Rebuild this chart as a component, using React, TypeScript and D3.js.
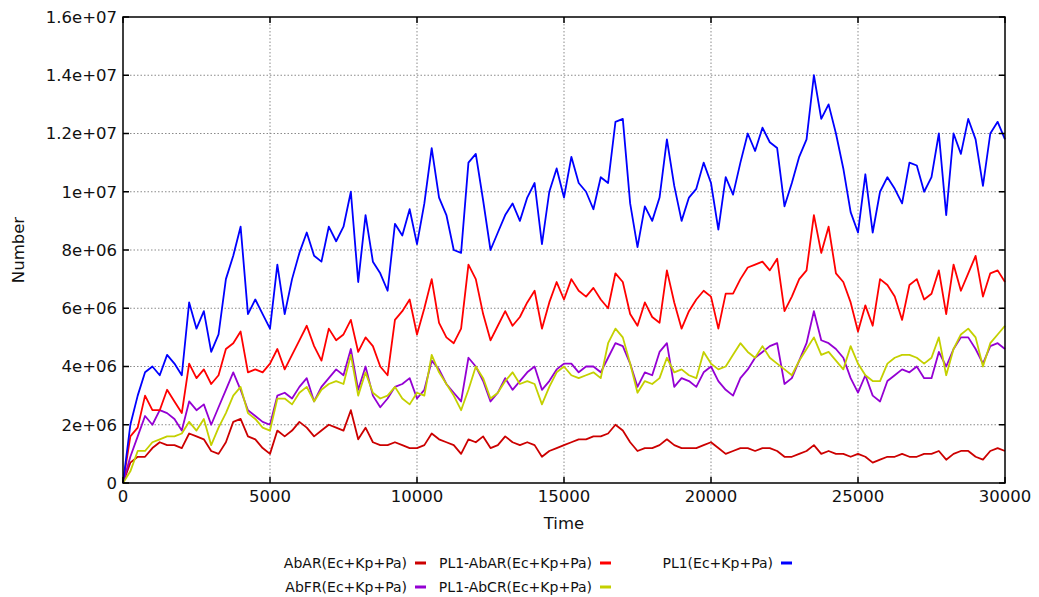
import React, { useEffect, useRef } from "react";
import * as d3 from "d3";

// sampling step of the series (time units); values are in millions
const STEP = 250;

const pl1 = [
  0, 2.0, 3.0, 3.8, 4.0, 3.7, 4.4, 4.1, 3.7, 6.2, 5.3, 5.9, 4.5, 5.1, 7.0, 7.8, 8.8, 5.8, 6.3, 5.8,
  5.3, 7.5, 5.8, 7.0, 7.9, 8.6, 7.8, 7.6, 8.8, 8.3, 8.8, 10.0, 6.9, 9.2, 7.6, 7.2, 6.6, 8.9, 8.5, 9.4,
  8.2, 9.6, 11.5, 9.8, 9.2, 8.0, 7.9, 11.0, 11.3, 9.7, 8.0, 8.6, 9.2, 9.6, 9.0, 9.8, 10.3, 8.2, 10.0, 10.8,
  9.8, 11.2, 10.3, 10.0, 9.4, 10.5, 10.3, 12.4, 12.5, 9.6, 8.1, 9.5, 9.0, 9.8, 11.8, 10.2, 9.0, 9.8, 10.1, 11.0,
  10.3, 8.7, 10.5, 9.9, 11.0, 12.0, 11.4, 12.2, 11.7, 11.5, 9.5, 10.3, 11.2, 11.8, 14.0, 12.5, 13.0, 12.0, 10.8, 9.3,
  8.6, 10.6, 8.6, 10.0, 10.5, 10.1, 9.6, 11.0, 10.9, 10.0, 10.5, 12.0, 9.2, 12.0, 11.3, 12.5, 11.8, 10.2, 12.0, 12.4,
  11.8,
];

const pl1AbAR = [
  0, 1.6, 1.9, 3.0, 2.5, 2.5, 3.2, 2.8, 2.4, 4.1, 3.6, 3.9, 3.4, 3.7, 4.6, 4.8, 5.2, 3.8, 3.9, 3.8,
  4.1, 4.6, 3.9, 4.4, 4.9, 5.4, 4.7, 4.2, 5.3, 4.9, 5.1, 5.6, 4.5, 5.0, 4.7, 4.0, 3.7, 5.6, 5.9, 6.3,
  5.1, 6.0, 7.0, 5.5, 5.0, 4.8, 5.3, 7.5, 7.0, 5.8, 4.9, 5.4, 5.9, 5.4, 5.7, 6.2, 6.6, 5.3, 6.2, 6.9,
  6.3, 7.0, 6.6, 6.4, 6.7, 6.3, 6.0, 7.2, 6.9, 5.8, 5.4, 6.2, 5.7, 5.5, 7.3, 6.2, 5.3, 5.9, 6.3, 6.6,
  6.4, 5.3, 6.5, 6.5, 7.0, 7.4, 7.5, 7.6, 7.3, 7.7, 5.9, 6.4, 7.0, 7.3, 9.2, 7.9, 8.8, 7.2, 6.9, 6.2,
  5.2, 6.1, 5.4, 7.0, 6.8, 6.4, 5.6, 6.8, 7.0, 6.3, 6.5, 7.3, 5.8, 7.5, 6.6, 7.2, 7.8, 6.4, 7.2, 7.3,
  6.9,
];

const abFR = [
  0, 0.9, 1.6, 2.3, 2.0, 2.5, 2.4, 2.2, 1.8, 2.8, 2.5, 2.7, 2.0, 2.6, 3.2, 3.8, 3.2, 2.5, 2.3, 2.1,
  2.0, 3.0, 3.1, 2.9, 3.3, 3.6, 2.8, 3.3, 3.6, 3.9, 3.7, 4.6, 3.2, 4.0, 3.0, 2.6, 2.9, 3.3, 3.4, 3.6,
  2.9, 3.2, 4.2, 3.9, 3.4, 3.1, 2.8, 4.3, 4.0, 3.5, 2.8, 3.1, 3.6, 3.2, 3.5, 3.8, 4.0, 3.2, 3.5, 3.9,
  4.1, 4.1, 3.8, 4.0, 4.0, 3.8, 4.3, 4.8, 4.7, 4.1, 3.3, 3.8, 3.7, 4.5, 4.8, 3.3, 3.6, 3.5, 3.3, 3.8,
  4.0, 3.5, 3.2, 3.0, 3.6, 3.9, 4.3, 4.5, 4.7, 4.8, 3.4, 3.6, 4.2, 4.8, 5.9, 4.9, 4.8, 4.6, 4.3, 3.6,
  3.1, 3.7, 3.0, 2.8, 3.5, 3.7, 3.9, 3.8, 4.0, 3.6, 3.6, 4.5, 4.0, 4.6, 5.0, 5.0, 4.6, 4.1, 4.7, 4.8,
  4.6,
];

const pl1AbCR = [
  0, 0.4, 1.1, 1.1, 1.4, 1.5, 1.6, 1.6, 1.7, 2.1, 1.8, 2.2, 1.3, 1.9, 2.4, 3.0, 3.3, 2.4, 2.2, 1.9,
  1.8, 2.9, 2.9, 2.7, 3.1, 3.3, 2.8, 3.2, 3.4, 3.5, 3.4, 4.4, 3.0, 3.8, 3.1, 2.9, 3.0, 3.3, 2.9, 2.7,
  3.1, 3.0, 4.4, 3.8, 3.4, 3.0, 2.5, 3.2, 4.0, 3.6, 2.9, 3.1, 3.5, 3.8, 3.4, 3.5, 3.4, 2.7, 3.3, 3.8,
  4.0, 3.7, 3.6, 3.7, 3.8, 3.6, 4.8, 5.3, 5.0, 4.1, 3.1, 3.5, 3.4, 3.6, 4.3, 3.8, 3.9, 3.7, 3.6, 4.5,
  4.1, 3.9, 4.0, 4.4, 4.8, 4.5, 4.3, 4.7, 4.3, 4.1, 3.9, 3.7, 4.2, 4.6, 5.0, 4.4, 4.5, 4.2, 3.9, 4.7,
  4.1, 3.7, 3.5, 3.5, 4.1, 4.3, 4.4, 4.4, 4.3, 4.1, 4.3, 5.0, 3.7, 4.6, 5.1, 5.3, 5.0, 4.0, 4.8, 5.1,
  5.4,
];

const abAR = [
  0, 0.7, 0.9, 0.9, 1.2, 1.4, 1.3, 1.3, 1.2, 1.7, 1.6, 1.5, 1.1, 1.0, 1.4, 2.1, 2.2, 1.6, 1.5, 1.2,
  1.0, 1.8, 1.6, 1.8, 2.1, 1.9, 1.6, 1.8, 2.0, 1.9, 1.8, 2.5, 1.5, 1.9, 1.4, 1.3, 1.3, 1.4, 1.3, 1.2,
  1.2, 1.3, 1.7, 1.5, 1.4, 1.3, 1.0, 1.5, 1.4, 1.6, 1.2, 1.3, 1.6, 1.4, 1.3, 1.4, 1.3, 0.9, 1.1, 1.2,
  1.3, 1.4, 1.5, 1.5, 1.6, 1.6, 1.7, 2.0, 1.8, 1.4, 1.1, 1.2, 1.2, 1.3, 1.5, 1.3, 1.2, 1.2, 1.2, 1.3,
  1.4, 1.2, 1.0, 1.1, 1.2, 1.2, 1.1, 1.2, 1.2, 1.1, 0.9, 0.9, 1.0, 1.1, 1.3, 1.0, 1.1, 1.0, 1.0, 0.9,
  1.0, 0.9, 0.7, 0.8, 0.9, 0.9, 1.0, 0.9, 0.9, 1.0, 1.0, 1.1, 0.8, 1.0, 1.1, 1.1, 0.9, 0.8, 1.1, 1.2,
  1.1,
];

const seriesNames = [
  "AbAR(Ec+Kp+Pa)",
  "AbFR(Ec+Kp+Pa)",
  "PL1-AbAR(Ec+Kp+Pa)",
  "PL1-AbCR(Ec+Kp+Pa)",
  "PL1(Ec+Kp+Pa)",
];
const seriesColors = ["#cc0000", "#9400d3", "#ff0000", "#c4d000", "#0000ff"];
const seriesData = [abAR, abFR, pl1AbAR, pl1AbCR, pl1];

const xTicks = [0, 5000, 10000, 15000, 20000, 25000, 30000];
const yTicks = [0, 2e6, 4e6, 6e6, 8e6, 1e7, 1.2e7, 1.4e7, 1.6e7];
const yTickLabels = ["0", "2e+06", "4e+06", "6e+06", "8e+06", "1e+07", "1.2e+07", "1.4e+07", "1.6e+07"];

// legend layout: [column text-right x, row]
const legendSlots = [
  { col: 0, row: 0 },
  { col: 0, row: 1 },
  { col: 1, row: 0 },
  { col: 1, row: 1 },
  { col: 2, row: 0 },
];
const legendColRight = [407, 592, 773];

const FONT = "'DejaVu Sans', Verdana, sans-serif";

export default function App() {
  const ref = useRef<SVGSVGElement>(null);

  useEffect(() => {
    const svg = d3.select(ref.current);
    svg.selectAll("*").remove();

    const left = 123, right = 1005, top = 17, bottom = 483;
    const x = d3.scaleLinear().domain([0, 30000]).range([left, right]);
    const y = d3.scaleLinear().domain([0, 1.6e7]).range([bottom, top]);

    svg.append("rect").attr("width", 1039).attr("height", 597).attr("fill", "#fff");

    // grid
    const grid = svg.append("g").attr("stroke", "#8a8a8a").attr("stroke-width", 1).attr("stroke-dasharray", "1.5,2");
    xTicks.slice(1, -1).forEach((t) => {
      grid.append("line").attr("x1", x(t)).attr("x2", x(t)).attr("y1", top).attr("y2", bottom);
    });
    yTicks.slice(1, -1).forEach((t) => {
      grid.append("line").attr("x1", left).attr("x2", right).attr("y1", y(t)).attr("y2", y(t));
    });

    // series
    const line = d3
      .line<number>()
      .x((_, i) => x(i * STEP))
      .y((d) => y(d * 1e6));
    seriesData.forEach((data, k) => {
      svg
        .append("path")
        .datum(data)
        .attr("d", line)
        .attr("fill", "none")
        .attr("stroke", seriesColors[k])
        .attr("stroke-width", 1.8)
        .attr("stroke-linejoin", "round");
    });

    // frame
    svg
      .append("rect")
      .attr("x", left)
      .attr("y", top)
      .attr("width", right - left)
      .attr("height", bottom - top)
      .attr("fill", "none")
      .attr("stroke", "#000")
      .attr("stroke-width", 1.5);

    // ticks (mirrored, inward)
    const tk = svg.append("g").attr("stroke", "#000").attr("stroke-width", 1.5);
    xTicks.forEach((t) => {
      tk.append("line").attr("x1", x(t)).attr("x2", x(t)).attr("y1", bottom).attr("y2", bottom - 6);
      tk.append("line").attr("x1", x(t)).attr("x2", x(t)).attr("y1", top).attr("y2", top + 6);
    });
    yTicks.forEach((t) => {
      tk.append("line").attr("x1", left).attr("x2", left + 6).attr("y1", y(t)).attr("y2", y(t));
      tk.append("line").attr("x1", right).attr("x2", right - 6).attr("y1", y(t)).attr("y2", y(t));
    });

    // tick labels
    const lab = svg.append("g").attr("font-family", FONT).attr("font-size", 16.5).attr("fill", "#111");
    xTicks.forEach((t) => {
      lab.append("text").attr("x", x(t)).attr("y", 502).attr("text-anchor", "middle").text(String(t));
    });
    yTicks.forEach((t, i) => {
      lab
        .append("text")
        .attr("x", left - 6)
        .attr("y", y(t))
        .attr("dy", "0.36em")
        .attr("text-anchor", "end")
        .text(yTickLabels[i]);
    });

    // axis titles
    lab.append("text").attr("x", 564).attr("y", 529).attr("text-anchor", "middle").text("Time");
    lab
      .append("text")
      .attr("transform", "translate(24,250) rotate(-90)")
      .attr("text-anchor", "middle")
      .text("Number");

    // legend
    const lg = svg.append("g").attr("font-family", FONT).attr("font-size", 14).attr("fill", "#111");
    seriesNames.forEach((name, k) => {
      const slot = legendSlots[k];
      const cy = 563 + slot.row * 24;
      const xr = legendColRight[slot.col];
      lg.append("text").attr("x", xr).attr("y", cy).attr("dy", "0.36em").attr("text-anchor", "end").text(name);
      lg.append("line")
        .attr("x1", xr + 8)
        .attr("x2", xr + 19)
        .attr("y1", cy)
        .attr("y2", cy)
        .attr("stroke", seriesColors[k])
        .attr("stroke-width", 3);
    });
  }, []);

  return <svg ref={ref} width={1039} height={597} style={{ position: "absolute", left: 0, top: 0 }} />;
}
